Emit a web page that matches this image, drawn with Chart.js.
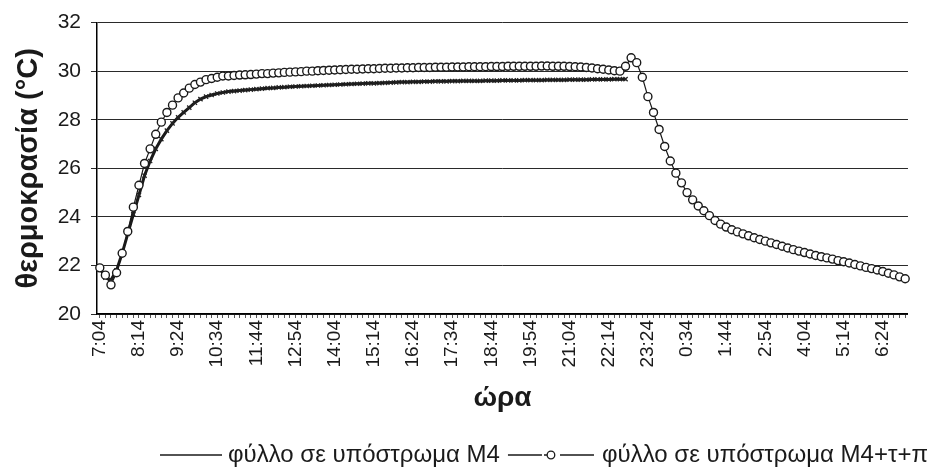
<!DOCTYPE html>
<html>
<head>
<meta charset="utf-8">
<script src="https://cdn.jsdelivr.net/npm/chart.js@4.4.0/dist/chart.umd.min.js"></script>
<style>
  body { margin: 0; background: #fff; }
  #wrap { width: 930px; height: 475px; }
</style>
</head>
<body>
<div id="wrap"><canvas id="tempChart" width="930" height="475"></canvas></div>
<script>
// ώρες μέτρησης: κάθε 10 λεπτά από 7:04 έως 7:04 της επόμενης μέρας
const times = [];
for (let m = 7 * 60 + 4; m <= 31 * 60 + 4; m += 10) {
    const h = Math.floor(m / 60) % 24;
    const mm = m % 60;
    times.push(h + ':' + (mm < 10 ? '0' : '') + mm);
}

// ετικέτες που φαίνονται στον άξονα x (μία κάθε 7 μετρήσεις)
const shownTimes = ['7:04', '8:14', '9:24', '10:34', '11:44', '12:54', '14:04', '15:14',
    '16:24', '17:34', '18:44', '19:54', '21:04', '22:14', '23:24', '0:34', '1:44',
    '2:54', '4:04', '5:14', '6:24'];

const yTicks = [20, 22, 24, 26, 28, 30, 32];

// φύλλο σε υπόστρωμα M4
const tempM4 = [
    21.9, 21.5, 21.4, 21.8, 22.5, 23.3, 24.1, 24.9, 25.7, 26.3,
    26.8, 27.2, 27.55, 27.85, 28.1, 28.3, 28.5, 28.7, 28.85, 28.95,
    29.02, 29.08, 29.12, 29.16, 29.18, 29.2, 29.22, 29.24, 29.26, 29.28,
    29.3, 29.31, 29.33, 29.34, 29.36, 29.37, 29.38, 29.39, 29.4, 29.41,
    29.42, 29.43, 29.44, 29.45, 29.46, 29.47, 29.48, 29.49, 29.5, 29.5,
    29.51, 29.52, 29.53, 29.54, 29.55, 29.55, 29.56, 29.56, 29.57, 29.57,
    29.58, 29.58, 29.58, 29.59, 29.59, 29.6, 29.6, 29.6, 29.6, 29.61,
    29.61, 29.61, 29.62, 29.62, 29.62, 29.62, 29.63, 29.63, 29.63, 29.63,
    29.64, 29.64, 29.64, 29.64, 29.65, 29.65, 29.65, 29.65, 29.66, 29.66,
    29.66, 29.66, 29.67, 29.67, 29.67
];

// φύλλο σε υπόστρωμα M4+τ+π
const tempM4tp = [
    21.9, 21.6, 21.2, 21.7, 22.5, 23.4, 24.4, 25.3, 26.2, 26.8,
    27.4, 27.9, 28.3, 28.6, 28.9, 29.1, 29.3, 29.45, 29.55, 29.65,
    29.7, 29.75, 29.8, 29.8, 29.82, 29.84, 29.85, 29.86, 29.88, 29.9,
    29.9, 29.92, 29.93, 29.95, 29.96, 29.97, 29.98, 30.0, 30.0, 30.02,
    30.03, 30.04, 30.05, 30.06, 30.07, 30.08, 30.08, 30.09, 30.1, 30.1,
    30.11, 30.12, 30.12, 30.13, 30.13, 30.14, 30.14, 30.15, 30.15, 30.15,
    30.16, 30.16, 30.16, 30.17, 30.17, 30.17, 30.18, 30.18, 30.18, 30.18,
    30.19, 30.19, 30.19, 30.2, 30.2, 30.2, 30.2, 30.2, 30.2, 30.21,
    30.21, 30.2, 30.2, 30.2, 30.19, 30.18, 30.17, 30.15, 30.13, 30.1,
    30.08, 30.05, 30.02, 30.0, 30.2, 30.55, 30.35, 29.75, 28.95, 28.3,
    27.6, 26.9, 26.3, 25.8, 25.4, 25.0, 24.7, 24.45, 24.25, 24.05,
    23.85, 23.7, 23.58, 23.47, 23.38, 23.3, 23.22, 23.14, 23.07, 23.0,
    22.93, 22.86, 22.79, 22.72, 22.65, 22.59, 22.53, 22.47, 22.41, 22.36,
    22.31, 22.26, 22.2, 22.15, 22.1, 22.04, 21.98, 21.92, 21.87, 21.81,
    21.75, 21.68, 21.61, 21.53, 21.45
];

const seriesNames = ['φύλλο σε υπόστρωμα M4', 'φύλλο σε υπόστρωμα M4+τ+π'];

const FONT = '"Liberation Sans", Arial, sans-serif';
const INK = '#1a1a1a';

// υπόμνημα κάτω, όπως στο Excel
const legendPlugin = {
    id: 'bottomLegend',
    afterDraw(chart) {
        const ctx = chart.ctx;
        const y = 455;
        ctx.save();
        ctx.font = '24px ' + FONT;
        ctx.fillStyle = INK;
        ctx.strokeStyle = INK;
        ctx.textBaseline = 'middle';
        const w1 = ctx.measureText(seriesNames[0]).width;
        const w2 = ctx.measureText(seriesNames[1]).width;
        // ———
        ctx.lineWidth = 1.5;
        ctx.beginPath();
        ctx.moveTo(160, y); ctx.lineTo(222, y);
        ctx.stroke();
        ctx.fillText(seriesNames[0], 228, y);
        // — o —
        const t2 = 928 - w2;
        const s2a = 228 + w1 + 8;
        const s2b = t2 - 8;
        const mid = (s2a + s2b) / 2;
        ctx.lineWidth = 1.3;
        ctx.beginPath();
        ctx.moveTo(s2a, y); ctx.lineTo(mid - 9, y);
        ctx.moveTo(mid + 9, y); ctx.lineTo(s2b, y);
        ctx.moveTo(mid - 7, y); ctx.lineTo(mid - 4, y);
        ctx.stroke();
        ctx.beginPath();
        ctx.arc(mid, y, 3.8, 0, Math.PI * 2);
        ctx.fillStyle = '#fff';
        ctx.fill();
        ctx.stroke();
        ctx.fillStyle = INK;
        ctx.fillText(seriesNames[1], t2, y);
        ctx.restore();
    }
};

const chart = new Chart(document.getElementById('tempChart'), {
    type: 'line',
    data: {
        labels: times,
        datasets: [{
            label: seriesNames[0],
            data: tempM4,
            borderColor: INK,
            borderWidth: 3,
            pointStyle: 'crossRot',
            pointRadius: 3,
            pointBorderWidth: 1.3,
            pointBorderColor: '#222',
            tension: 0,
            order: 1
        }, {
            label: seriesNames[1],
            data: tempM4tp,
            borderColor: INK,
            borderWidth: 1.2,
            pointStyle: 'circle',
            pointRadius: 4,
            pointBorderWidth: 1.4,
            pointBorderColor: INK,
            pointBackgroundColor: '#fff',
            tension: 0,
            order: 0
        }]
    },
    options: {
        responsive: false,
        devicePixelRatio: 1,
        animation: false,
        layout: { padding: { left: 0, top: 20, right: 3, bottom: 60 } },
        plugins: {
            legend: { display: false },
            tooltip: { enabled: false }
        },
        scales: {
            x: {
                offset: true,
                grid: {
                    drawOnChartArea: false,
                    drawTicks: true,
                    tickLength: 4,
                    color: '#555'
                },
                border: { display: true, color: '#000', width: 1.5 },
                ticks: {
                    autoSkip: false,
                    minRotation: 90,
                    maxRotation: 90,
                    padding: 2,
                    color: INK,
                    font: { family: FONT, size: 19 },
                    callback: function(value, index) {
                        const lbl = this.getLabelForValue(value);
                        return (index % 7 === 0 && shownTimes.includes(lbl) && index < 144) ? lbl : '';
                    }
                },
                title: {
                    display: true,
                    text: 'ώρα',
                    color: INK,
                    font: { family: FONT, size: 28, weight: 'bold' },
                    padding: { top: 0, bottom: 0 }
                },
                afterFit: function(scale) { scale.height = 101; }
            },
            y: {
                min: 20,
                max: 32,
                afterBuildTicks: function(scale) {
                    scale.ticks = yTicks.map(v => ({ value: v }));
                },
                grid: {
                    color: '#2a2a2a',
                    lineWidth: 1,
                    drawTicks: true,
                    tickLength: 6
                },
                border: { display: true, color: '#000', width: 1.5 },
                ticks: {
                    padding: 10,
                    color: INK,
                    font: { family: FONT, size: 21 }
                },
                title: {
                    display: true,
                    text: 'θερμοκρασία (°C)',
                    color: INK,
                    font: { family: FONT, size: 29, weight: 'bold' },
                    padding: { top: 12, bottom: 0 }
                },
                afterFit: function(scale) { scale.width = 97; }
            }
        }
    },
    plugins: [legendPlugin]
});
</script>
</body>
</html>
